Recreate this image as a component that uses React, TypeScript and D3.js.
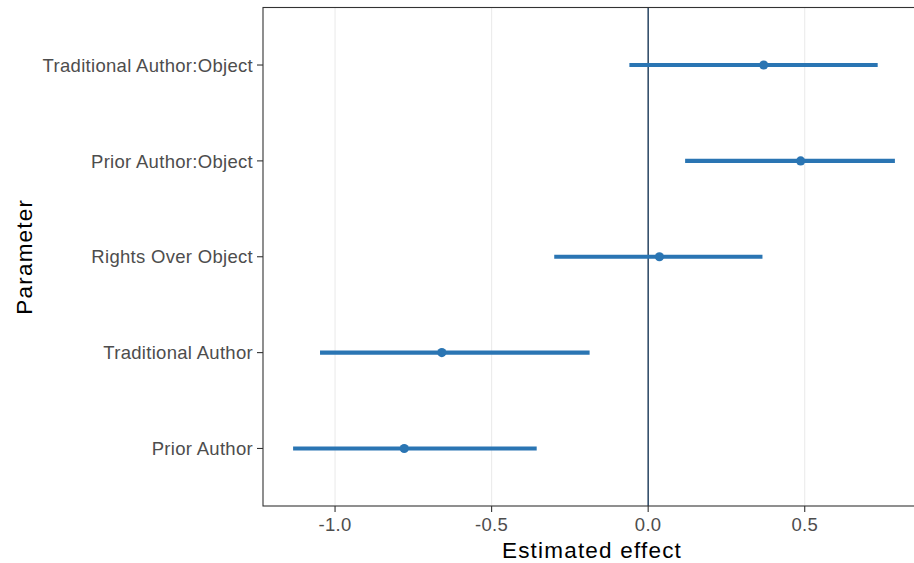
import React from "react";
import * as d3 from "d3";

const categories = ["Prior Author", "Traditional Author", "Rights Over Object", "Prior Author:Object", "Traditional Author:Object"];
const estimates = [-0.779, -0.659, 0.036, 0.487, 0.369];
const lower = [-1.134, -1.048, -0.300, 0.118, -0.060];
const upper = [-0.356, -0.187, 0.365, 0.788, 0.733];
const xTicks = [-1.0, -0.5, 0.0, 0.5];

const W = 914;
const H = 563;
const panel = { left: 263, top: 7.5, right: 925, bottom: 506 };

export default function App() {
  const allVals = [...lower, ...upper];
  const lo = d3.min(allVals)!;
  const hi = d3.max(allVals)!;
  const pad = (hi - lo) * 0.05;
  const x = d3.scaleLinear().domain([lo - pad, hi + pad]).range([panel.left, panel.right]);
  const y = d3
    .scalePoint<string>()
    .domain(categories)
    .range([panel.bottom, panel.top])
    .padding(0.6);

  const font = "'Liberation Sans', Arial, sans-serif";
  const color = "#2a75b3";
  const fmt = (t: number) => d3.format(".1f")(t).replace("\u2212", "-");

  return (
    <div style={{ position: "absolute", left: 0, top: 0 }}>
      <svg width={W} height={H} style={{ display: "block", background: "#fff" }}>
        <defs>
          <clipPath id="pclip">
            <rect x={panel.left} y={panel.top} width={panel.right - panel.left} height={panel.bottom - panel.top} />
          </clipPath>
        </defs>
        {/* grid */}
        {xTicks.map((t) => (
          <line key={"g" + t} x1={x(t)} x2={x(t)} y1={panel.top} y2={panel.bottom} stroke="#ebebeb" strokeWidth={1.1} />
        ))}
        {/* zero line */}
        <line x1={x(0)} x2={x(0)} y1={panel.top} y2={panel.bottom} stroke="#1b3a5a" strokeWidth={1.4} />
        {/* error bars */}
        <g clipPath="url(#pclip)">
          {categories.map((c, i) => (
            <g key={c}>
              <line x1={x(lower[i])} x2={x(upper[i])} y1={y(c)!} y2={y(c)!} stroke={color} strokeWidth={4.2} />
              <circle cx={x(estimates[i])} cy={y(c)!} r={4.6} fill={color} />
            </g>
          ))}
        </g>
        {/* panel border */}
        <rect
          x={panel.left}
          y={panel.top}
          width={panel.right - panel.left}
          height={panel.bottom - panel.top}
          fill="none"
          stroke="#333333"
          strokeWidth={1.1}
        />
        {/* y axis ticks & labels */}
        {categories.map((c) => (
          <g key={"yt" + c}>
            <line x1={panel.left - 6} x2={panel.left} y1={y(c)!} y2={y(c)!} stroke="#333333" strokeWidth={1.1} />
            <text
              x={panel.left - 10}
              y={y(c)!}
              dy="0.36em"
              textAnchor="end"
              fontFamily={font}
              fontSize={18.5}
              letterSpacing={0.3}
              fill="#4d4d4d"
            >
              {c}
            </text>
          </g>
        ))}
        {/* x axis ticks & labels */}
        {xTicks.map((t) => (
          <g key={"xt" + t}>
            <line x1={x(t)} x2={x(t)} y1={panel.bottom} y2={panel.bottom + 6} stroke="#333333" strokeWidth={1.1} />
            <text
              x={x(t)}
              y={531}
              textAnchor="middle"
              fontFamily={font}
              fontSize={18.5}
              letterSpacing={0.3}
              fill="#4d4d4d"
            >
              {fmt(t)}
            </text>
          </g>
        ))}
        {/* axis titles */}
        <text x={592} y={558} textAnchor="middle" fontFamily={font} fontSize={22.5} letterSpacing={1.2} fill="#000">
          Estimated effect
        </text>
        <text
          transform={`translate(32, ${(panel.top + panel.bottom) / 2}) rotate(-90)`}
          textAnchor="middle"
          fontFamily={font}
          fontSize={22.5}
          letterSpacing={1.2}
          fill="#000"
        >
          Parameter
        </text>
      </svg>
    </div>
  );
}
